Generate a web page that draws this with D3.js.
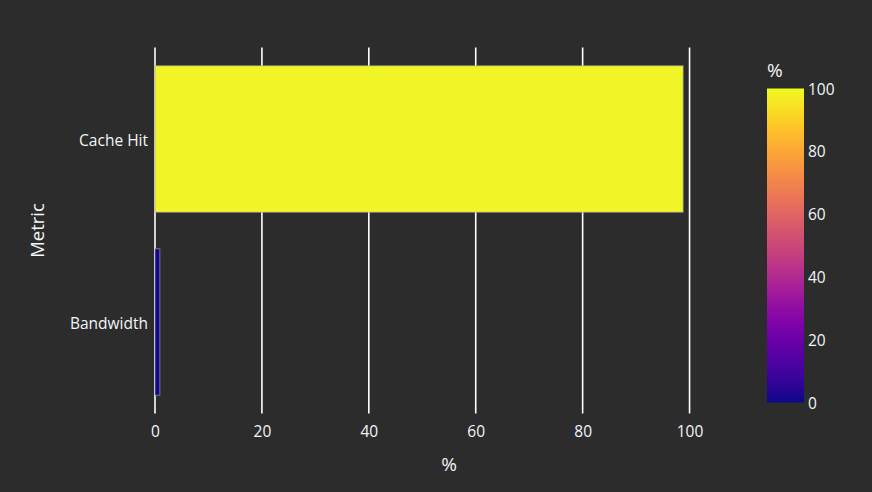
<!DOCTYPE html>
<html><head><meta charset="utf-8">
<script src="https://cdn.jsdelivr.net/npm/d3@7"></script>
<style>
html,body{margin:0;padding:0;background:#2c2c2c;}
svg{display:block;}
text{font-family:"Open Sans",sans-serif;fill:#f2f5fa;}
</style></head>
<body>
<svg id="c" width="872" height="492"></svg>
<script>
const categories = ["Cache Hit", "Bandwidth"];
const values = [98.8, 0.9];
const xTicks = [0, 20, 40, 60, 80, 100];
const cbTicks = [0, 20, 40, 60, 80, 100];
const xTitle = "%";
const yTitle = "Metric";
const cbTitle = "%";

const FONT = "Open Sans";
const TICK = 15.5;
const W = 872, H = 492;
const m = {l: 155, r: 129, t: 47.5, b: 78.5};
const svg = d3.select("#c");
svg.append("rect").attr("width", W).attr("height", H).attr("fill", "#2c2c2c");

const x = d3.scaleLinear().domain([0, 110]).range([m.l, W - m.r]);
const y = d3.scaleBand().domain(categories).range([m.t, H - m.b]).paddingInner(0.2).paddingOuter(0.1);
const color = d3.scaleSequential(d3.interpolatePlasma).domain([0, 100]);

// gridlines
svg.append("g").selectAll("line").data(xTicks).join("line")
  .attr("x1", d => x(d)).attr("x2", d => x(d))
  .attr("y1", m.t).attr("y2", H - m.b)
  .attr("stroke", "#ffffff").attr("stroke-width", 1.6);

// bars
svg.append("g").selectAll("rect").data(categories).join("rect")
  .attr("x", x(0))
  .attr("y", d => y(d))
  .attr("width", (d, i) => x(values[i]) - x(0))
  .attr("height", y.bandwidth())
  .attr("fill", (d, i) => color(values[i]))
  .attr("stroke", "rgba(165,165,165,0.65)")
  .attr("stroke-width", 1);

// x axis
const xAxis = d3.axisBottom(x).tickValues(xTicks).tickSize(0);
const gx = svg.append("g").attr("transform", `translate(0,436.5)`).call(xAxis);
gx.select(".domain").remove();
gx.selectAll("text").attr("y", 0).attr("dy", 0).attr("font-size", TICK).style("fill", "#f2f5fa").attr("font-family", FONT);

// y axis
const yAxis = d3.axisLeft(y).tickSize(0).tickPadding(7);
const gy = svg.append("g").attr("transform", `translate(${m.l},0)`).call(yAxis);
gy.select(".domain").remove();
gy.selectAll("text").attr("dy", "0.42em").attr("font-size", TICK).style("fill", "#f2f5fa").attr("font-family", FONT);

// axis titles
svg.append("text").attr("x", (m.l + W - m.r) / 2).attr("y", 471)
  .attr("text-anchor", "middle").attr("font-size", 19).text(xTitle);
svg.append("text").attr("transform", `translate(44,${(m.t + H - m.b) / 2}) rotate(-90)`)
  .attr("text-anchor", "middle").attr("font-size", 18.5).text(yTitle);

// colorbar
const cbX = 767, cbW = 37, cbTop = 88.5, cbBot = 402.5;
const cy = d3.scaleLinear().domain([0, 100]).range([cbBot, cbTop]);
const defs = svg.append("defs");
const grad = defs.append("linearGradient").attr("id", "g").attr("x1", 0).attr("y1", 1).attr("x2", 0).attr("y2", 0);
d3.range(0, 1.0001, 0.05).forEach(t => {
  grad.append("stop").attr("offset", t).attr("stop-color", d3.interpolatePlasma(t));
});
svg.append("rect").attr("x", cbX).attr("y", cbTop).attr("width", cbW).attr("height", cbBot - cbTop).attr("fill", "url(#g)");
const cAxis = d3.axisRight(cy).tickValues(cbTicks).tickSize(0).tickPadding(4);
const gc = svg.append("g").attr("transform", `translate(${cbX + cbW},0)`).call(cAxis);
gc.select(".domain").remove();
gc.selectAll("text").attr("dy", "0.36em").attr("font-size", TICK).style("fill", "#f2f5fa").attr("font-family", FONT);
svg.append("text").attr("x", cbX).attr("y", 77).attr("font-size", 19).text(cbTitle);
</script>
</body></html>
